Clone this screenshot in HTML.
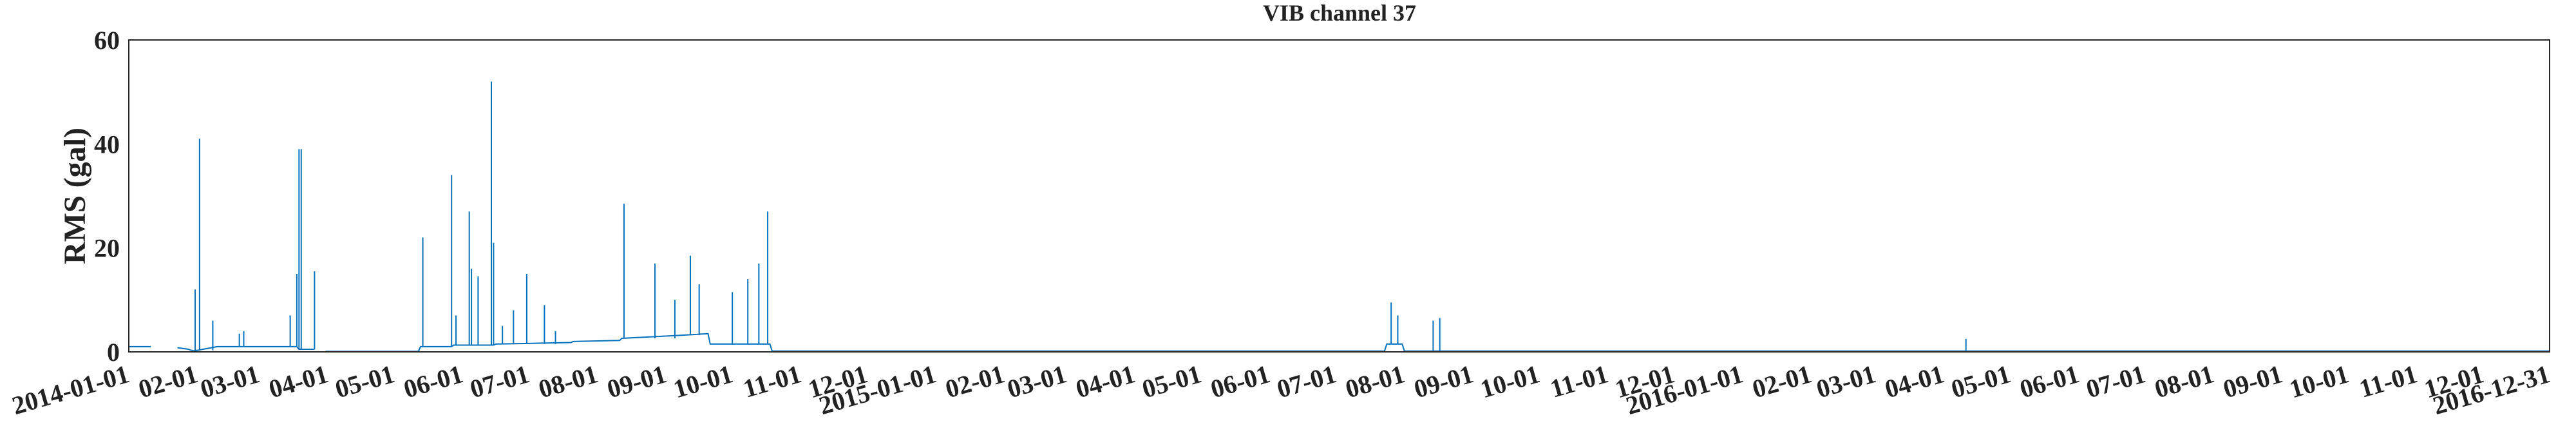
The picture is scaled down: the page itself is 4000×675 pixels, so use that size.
<!DOCTYPE html>
<html><head><meta charset="utf-8"><style>
html,body{margin:0;padding:0;background:#fff;}
svg{display:block;font-family:"Liberation Serif",serif;font-weight:bold;}
</style></head><body>
<svg id="chart" width="4000" height="675" viewBox="0 0 4000 675" xmlns="http://www.w3.org/2000/svg">
<text x="2080" y="32" font-size="36" text-anchor="middle" fill="#222">VIB channel 37</text>
<text transform="translate(132,304) rotate(-90)" font-size="48" text-anchor="middle" fill="#222">RMS (gal)</text>
<g id="yticks"></g><g id="xticks"></g><g id="series"></g>
<rect x="200" y="62" width="3759" height="484" fill="none" stroke="#262626" stroke-width="2"/>
</svg>
<script>
// Baseline (day offset from 2014-01-01, RMS value); null = gap
const baseDays = [0,10,11,22,27,29,31,40,76,77,84,85,89,131,132,146,147,165,166,200,201,222,223,250,262,263,290,291,568,569,576,577,1095];
const baseVals = [1.0,1.0,null,0.8,0.5,0.2,0.3,1.0,1.0,0.5,0.5,null,0.1,0.1,1.0,1.0,1.3,1.3,1.5,1.8,2.0,2.2,2.6,3.2,3.5,1.5,1.5,0.15,0.15,1.5,1.5,0.15,0.15];
// Spikes
const spikeDays = [30,32,38,50,52,73,76,77,78,84,133,146,148,154,155,158,164,165,169,174,180,188,193,224,238,247,254,258,273,280,285,289,571,574,590,593,831];
const spikeVals = [12,41,6,3.5,4,7,15,39,39,15.5,22,34,7,27,16,14.5,52,21,5,8,15,9,4,28.5,17,10,18.5,13,11.5,14,17,27,9.5,7,6,6.5,2.5];
const yTicks = [0,20,40,60];
const monthLabels = ["2014-01-01","02-01","03-01","04-01","05-01","06-01","07-01","08-01","09-01","10-01","11-01","12-01",
 "2015-01-01","02-01","03-01","04-01","05-01","06-01","07-01","08-01","09-01","10-01","11-01","12-01",
 "2016-01-01","02-01","03-01","04-01","05-01","06-01","07-01","08-01","09-01","10-01","11-01","12-01","2016-12-31"];
const tickDays = [0,31,59,90,120,151,181,212,243,273,304,334,365,396,424,455,485,516,546,577,608,638,669,699,730,761,790,821,851,882,912,943,974,1004,1035,1065,1095];

const NS="http://www.w3.org/2000/svg";
const X0=200,X1=3959,Y0=546,Y1=62,DMAX=1095,VMAX=60;
function xs(d){return X0+(X1-X0)*d/DMAX;}
function ys(v){return Y0-(Y0-Y1)*v/VMAX;}
function mk(tag,attrs,parent){const e=document.createElementNS(NS,tag);for(const k in attrs)e.setAttribute(k,attrs[k]);parent.appendChild(e);return e;}
function baseAt(d){let v=0.15;for(let i=0;i<baseDays.length;i++){if(baseDays[i]<=d&&baseVals[i]!==null)v=baseVals[i];}return v;}

const yt=document.getElementById('yticks');
yTicks.forEach(v=>{
 const t=mk('text',{x:186,y:ys(v)+14,'font-size':40,'text-anchor':'end',fill:'#222'},yt);
 
 
 t.textContent=v;
});
const xt=document.getElementById('xticks');
tickDays.forEach((d,i)=>{
 const x=xs(d);
 const t=mk('text',{x:0,y:0,'font-size':40,'text-anchor':'end',fill:'#222',transform:`translate(${x+3},${Y0+46}) rotate(-16)`},xt);
 
 
 t.textContent=monthLabels[i];
});
const sg=document.getElementById('series');
let seg=[];
function flush(){if(seg.length>1){const p=mk('polyline',{points:seg.join(' '),fill:'none',stroke:'#0072BD','stroke-width':2},sg);
 
 }seg=[];}
for(let i=0;i<baseDays.length;i++){
 if(baseVals[i]===null){flush();continue;}
 seg.push(xs(baseDays[i]).toFixed(1)+','+ys(baseVals[i]).toFixed(1));
}
flush();
spikeDays.forEach((d,i)=>{
 const x=xs(d);
 const l=mk('line',{x1:x,x2:x,y1:ys(baseAt(d)),y2:ys(spikeVals[i]),stroke:'#0072BD','stroke-width':2},sg);
 
 
});
</script>
</body></html>
